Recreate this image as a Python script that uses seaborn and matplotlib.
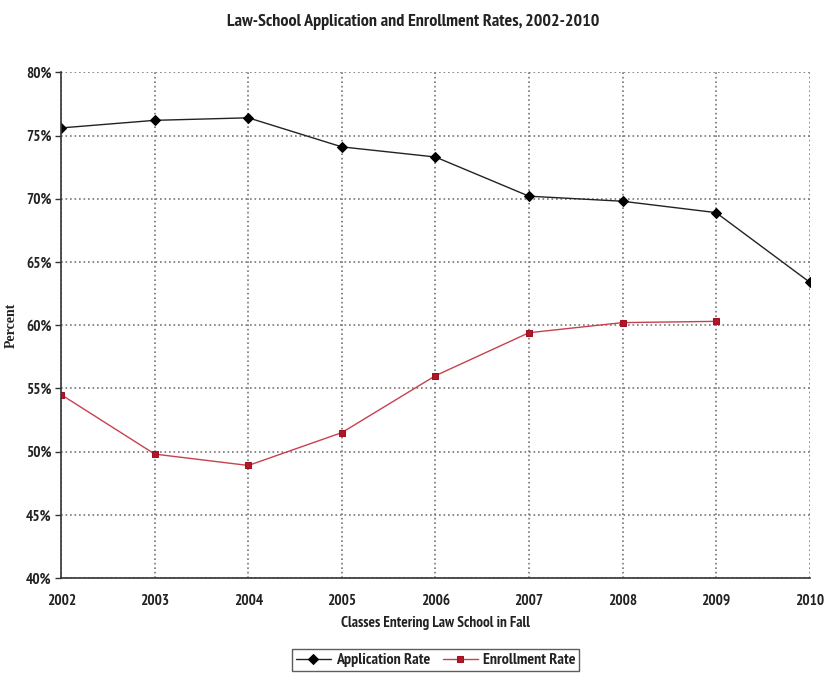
import matplotlib
matplotlib.use("Agg")
import matplotlib.pyplot as plt
import seaborn as sns
import pandas as pd
from matplotlib.ticker import FuncFormatter

years = [2002, 2003, 2004, 2005, 2006, 2007, 2008, 2009, 2010]
application_rate = [75.6, 76.2, 76.4, 74.1, 73.3, 70.2, 69.8, 68.9, 63.4]
enrollment_years = [2002, 2003, 2004, 2005, 2006, 2007, 2008, 2009]
enrollment_rate = [54.5, 49.8, 48.9, 51.5, 56.0, 59.4, 60.2, 60.3]

sns.set_style("white")
plt.rcParams["font.family"] = ["PT Sans Narrow", "Liberation Sans", "DejaVu Sans"]

app_df = pd.DataFrame({"Year": years, "Rate": application_rate})
enr_df = pd.DataFrame({"Year": enrollment_years, "Rate": enrollment_rate})

fig = plt.figure(figsize=(8.27, 6.82), dpi=100)
ax = fig.add_axes([0.074, 0.1525, 0.905, 0.7415])

sns.lineplot(data=app_df, x="Year", y="Rate", ax=ax, color="#222222", linewidth=1.0,
             marker="D", markersize=5, markeredgecolor="black", markerfacecolor="black",
             label="Application Rate")
sns.lineplot(data=enr_df, x="Year", y="Rate", ax=ax, color="#c84050", linewidth=1.0,
             marker="s", markersize=5, markeredgecolor="#a01020", markerfacecolor="#b01828",
             label="Enrollment Rate")

ax.set_xlim(2002, 2010)
ax.set_ylim(40, 80)
ax.set_xticks(years)
ax.set_yticks(range(40, 81, 5))
ax.yaxis.set_major_formatter(FuncFormatter(lambda v, p: f"{int(v)}%"))
ax.grid(True, linestyle=(0, (1.0, 1.7)), color="#777777", linewidth=1.2)
for s in ["top", "right"]:
    ax.spines[s].set_visible(False)
for s in ["left", "bottom"]:
    ax.spines[s].set_color("#333333")
    ax.spines[s].set_linewidth(1.2)
ax.tick_params(axis="y", which="major", left=True, length=4, width=1, color="#333333",
               labelsize=11, pad=3)
ax.tick_params(axis="x", which="major", bottom=False, labelsize=11, pad=8)
for lbl in ax.get_xticklabels() + ax.get_yticklabels():
    lbl.set_fontweight("bold")
    lbl.set_color("#222222")

ax.set_xlabel("Classes Entering Law School in Fall", fontsize=11, fontweight="bold",
              labelpad=6, color="#222222")
ax.set_ylabel("Percent", fontsize=10, fontweight="bold", family="Liberation Serif",
              labelpad=6, color="#222222")
fig.suptitle("Law-School Application and Enrollment Rates, 2002-2010", fontsize=13,
             fontweight="bold", y=0.98, color="#222222")

leg = ax.legend(loc="upper center", bbox_to_anchor=(0.5, -0.125), ncol=2, frameon=True,
                fancybox=False, edgecolor="#333333", fontsize=11.5, handlelength=2.2,
                columnspacing=0.8, handletextpad=0.3, borderpad=0.25)
leg.get_frame().set_linewidth(1.0)
for t in leg.get_texts():
    t.set_fontweight("bold")
    t.set_color("#222222")

fig.savefig("out.png", dpi=100, facecolor="white")
